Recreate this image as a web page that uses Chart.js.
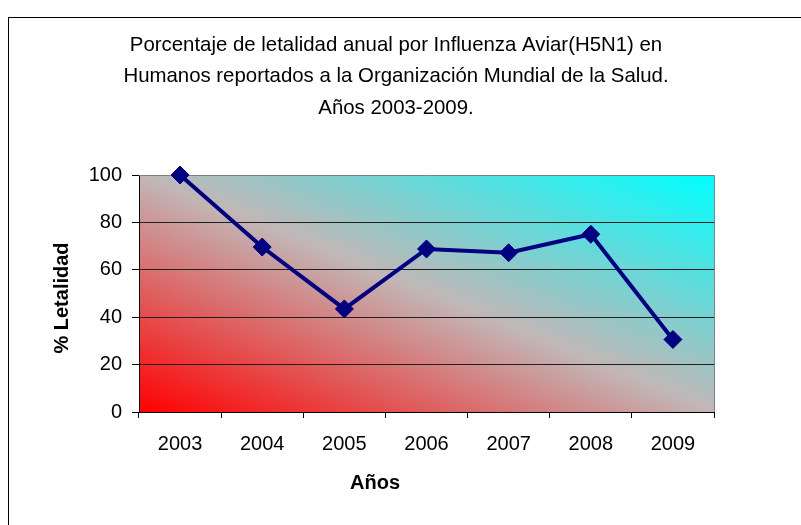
<!DOCTYPE html>
<html>
<head>
<meta charset="utf-8">
<script src="https://cdn.jsdelivr.net/npm/chart.js@4"></script>
<style>
  html, body { margin: 0; padding: 0; background: #fff; overflow: hidden; }
  #wrap { position: relative; width: 801px; height: 525px; }
  #frame { position: absolute; left: 8px; top: 17px; width: 900px; height: 700px; border: 1px solid #000; box-sizing: border-box; }
  canvas { position: absolute; left: 0; top: 0; }
</style>
</head>
<body>
<div id="wrap">
  <div id="frame"></div>
  <canvas id="chart" width="801" height="525"></canvas>
</div>
<script>
// Chart data
const years = ['2003', '2004', '2005', '2006', '2007', '2008', '2009'];
const letalidad = [100, 69.6, 43.5, 68.8, 67.2, 75, 30.6];
const titleLines = [
    'Porcentaje de letalidad anual por Influenza Aviar(H5N1) en',
    'Humanos reportados a la Organización Mundial de la Salud.',
    'Años 2003-2009.'
];
const yTitle = '% Letalidad';
const xTitle = 'Años';

// Background gradient (corner to corner, like Excel) + plot border
const plotBackground = {
    id: 'plotBackground',
    beforeDraw(chart) {
        const { ctx, chartArea: a } = chart;
        ctx.save();
        ctx.translate(a.left, a.top);
        ctx.scale(a.right - a.left, a.bottom - a.top);
        const g = ctx.createLinearGradient(0, 1, 1, 0);
        g.addColorStop(0, '#ff0000');
        g.addColorStop(0.5, '#c2b6b6');
        g.addColorStop(1, '#00ffff');
        ctx.fillStyle = g;
        ctx.fillRect(0, 0, 1, 1);
        ctx.restore();
    },
    beforeDatasetsDraw(chart) {
        const { ctx, chartArea: a } = chart;
        ctx.save();
        ctx.strokeStyle = '#808080';
        ctx.lineWidth = 1;
        ctx.beginPath();
        ctx.moveTo(a.left, a.top + 0.5);
        ctx.lineTo(a.right + 0.5, a.top + 0.5);
        ctx.lineTo(a.right + 0.5, a.bottom);
        ctx.stroke();
        ctx.restore();
    }
};

// Titles drawn as text
const chartTexts = {
    id: 'chartTexts',
    afterDraw(chart) {
        const ctx = chart.ctx;
        ctx.save();
        ctx.fillStyle = '#000';
        ctx.textAlign = 'center';
        ctx.textBaseline = 'middle';
        ctx.font = '20.4px "Liberation Sans", Arial, sans-serif';
        titleLines.forEach((line, i) => ctx.fillText(line, 396, 45 + i * 31.5));

        ctx.font = 'bold 20px "Liberation Sans", Arial, sans-serif';
        ctx.fillText(xTitle, 375, 483);

        ctx.translate(62, 298);
        ctx.rotate(-Math.PI / 2);
        ctx.fillText(yTitle, 0, 0);
        ctx.restore();
    }
};

const ctx = document.getElementById('chart').getContext('2d');
const chart = new Chart(ctx, {
    type: 'line',
    data: {
        labels: years,
        datasets: [{
            data: letalidad,
            borderColor: '#000080',
            borderWidth: 4,
            backgroundColor: '#000080',
            pointStyle: 'rectRot',
            pointRadius: 9,
            pointBorderWidth: 1,
            pointBorderColor: '#000080',
            pointBackgroundColor: '#000080',
            tension: 0,
            clip: false
        }]
    },
    options: {
        responsive: false,
        animation: false,
        events: [],
        layout: { padding: { top: 175, right: 87, left: 0, bottom: 0 } },
        plugins: {
            legend: { display: false },
            title: { display: false },
            tooltip: { enabled: false }
        },
        scales: {
            x: {
                offset: true,
                afterFit(scale) { scale.height = 113; },
                grid: {
                    offset: true,
                    drawOnChartArea: false,
                    tickLength: 6,
                    tickColor: '#000'
                },
                border: { color: '#000', width: 1 },
                ticks: {
                    color: '#000',
                    padding: 14,
                    font: { family: '"Liberation Sans", Arial, sans-serif', size: 20 }
                }
            },
            y: {
                min: 0,
                max: 100,
                afterFit(scale) { scale.width = 139; },
                grid: {
                    color: c => c.tick && c.tick.value === 100 ? 'rgba(0,0,0,0)' : '#202020',
                    tickLength: 7,
                    tickColor: '#000'
                },
                border: { color: '#000', width: 1 },
                ticks: {
                    stepSize: 20,
                    color: '#000',
                    padding: 10,
                    font: { family: '"Liberation Sans", Arial, sans-serif', size: 20 }
                }
            }
        }
    },
    plugins: [plotBackground, chartTexts]
});
</script>
</body>
</html>
